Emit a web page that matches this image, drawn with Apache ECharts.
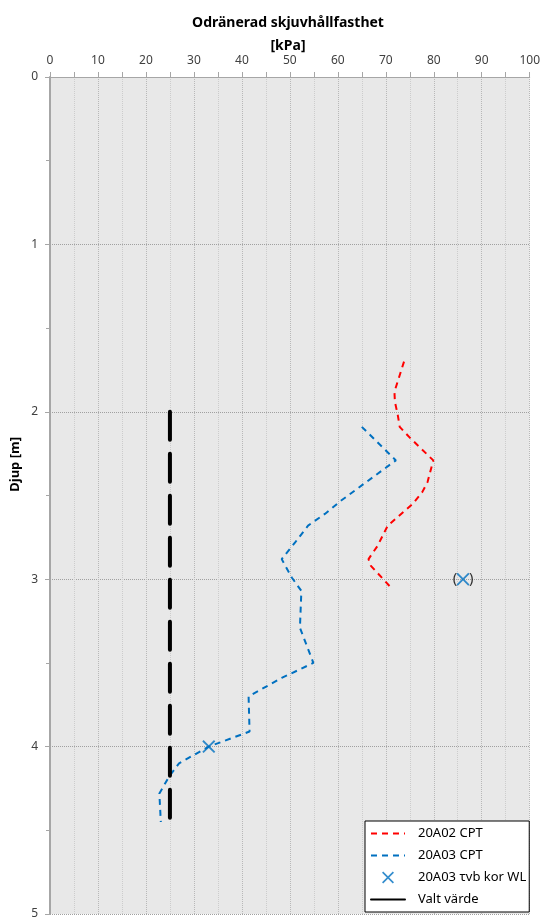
<!DOCTYPE html>
<html>
<head>
<meta charset="utf-8">
<script src="https://cdn.jsdelivr.net/npm/echarts@6/dist/echarts.min.js"></script>
<style>
  html, body { margin: 0; padding: 0; background: #fff; }
  #chart { width: 543px; height: 920px; }
</style>
</head>
<body>
<div id="chart"></div>
<script>
// 20A02 CPT
var cpt02Djup = [1.70, 1.80, 1.88, 1.94, 2.02, 2.09, 2.16, 2.29, 2.42, 2.48, 2.55, 2.68, 2.80, 2.88, 2.92, 3.06];
var cpt02Cu   = [73.8, 72.7, 71.8, 71.9, 72.5, 72.9, 75.2, 79.9, 78.7, 77.6, 75.6, 70.4, 68.3, 66.4, 66.9, 71.4];
// 20A03 CPT
var cpt03Djup = [2.09, 2.29, 2.53, 2.61, 2.68, 2.78, 2.88, 2.99, 3.07, 3.29, 3.50, 3.59, 3.70, 3.91, 4.00, 4.10, 4.18, 4.28, 4.45];
var cpt03Cu   = [65.0, 72.1, 60.7, 57.3, 53.8, 51.1, 48.3, 50.4, 52.4, 52.1, 54.9, 48.3, 41.4, 41.6, 33.1, 26.9, 24.8, 22.8, 23.1];
// 20A03 τvb kor WL
var vbDjup = [4.00, 3.00];
var vbCu   = [33.1, 86.1];
// Valt värde
var valtDjup = [2.0, 4.47];
var valtCu   = [25, 25];

function pairs(xs, ys) {
  return xs.map(function (x, i) { return [x, ys[i]]; });
}

var fontFam = '"Noto Sans", "Liberation Sans", sans-serif';
var crossPath = 'path://M0,1L1,0L5,4L9,0L10,1L6,5L10,9L9,10L5,6L1,10L0,9L4,5Z';
var noSymbol = { opacity: 0 };

var chart = echarts.init(document.getElementById('chart'));
chart.setOption({
  animation: false,
  textStyle: { fontFamily: fontFam },
  title: {
    text: 'Odränerad skjuvhållfasthet\n[kPa]',
    left: 283,
    top: 7,
    textAlign: 'center',
    textStyle: { fontSize: 14, fontWeight: 'bold', color: '#000', lineHeight: 23, fontFamily: fontFam }
  },
  graphic: [{
    type: 'text',
    left: 9,
    top: 437,
    rotation: Math.PI / 2,
    style: { text: 'Djup [m]', font: 'bold 13px ' + fontFam, fill: '#000' }
  }],
  grid: {
    left: 50, right: 10, top: 77, bottom: 4,
    show: true, backgroundColor: '#e8e8e8', borderWidth: 0
  },
  legend: {
    orient: 'vertical',
    left: 365, top: 821,
    padding: [6, 3, 6, 5],
    backgroundColor: '#fff',
    borderColor: '#000',
    borderWidth: 1,
    borderRadius: 0,
    itemWidth: 34,
    itemHeight: 12,
    itemGap: 9,
    textStyle: { fontSize: 13, color: '#000', fontFamily: fontFam, padding: [0, 0, 0, 8] },
    data: [
      { name: '20A02 CPT', itemStyle: noSymbol },
      { name: '20A03 CPT', itemStyle: noSymbol },
      { name: '20A03 τvb kor WL' },
      { name: 'Valt värde', itemStyle: noSymbol, lineStyle: { type: 'solid' } }
    ]
  },
  xAxis: {
    type: 'value',
    position: 'top',
    min: 0, max: 100, interval: 10,
    axisLine: { show: true, lineStyle: { color: '#a6a6a6', width: 1 } },
    axisTick: { show: true, length: 5, lineStyle: { color: '#a6a6a6' } },
    minorTick: { show: true, splitNumber: 2, length: 5, lineStyle: { color: '#a6a6a6' } },
    axisLabel: { margin: 10, fontSize: 12, color: '#404040' },
    splitLine: { show: true, lineStyle: { color: '#b8b8b8', type: 'dotted', width: 1 } },
    minorSplitLine: { show: true, lineStyle: { color: '#cccccc', type: 'dotted', width: 1 } }
  },
  yAxis: {
    type: 'value',
    inverse: true,
    min: 0, max: 5, interval: 1,
    axisLine: { show: true, onZero: false, lineStyle: { color: '#a6a6a6', width: 2 } },
    axisTick: { show: true, length: 5, lineStyle: { color: '#a6a6a6' } },
    minorTick: { show: true, splitNumber: 2, length: 4, lineStyle: { color: '#a6a6a6' } },
    axisLabel: { margin: 12, fontSize: 12, color: '#404040' },
    splitLine: { show: true, lineStyle: { color: '#a0a0a0', type: 'dotted', width: 1 } }
  },
  series: [
    {
      name: '20A02 CPT',
      type: 'line',
      data: pairs(cpt02Cu, cpt02Djup),
      showSymbol: false,
      symbol: 'none',
      color: '#ff0000',
      lineStyle: { color: '#ff0000', width: 2, type: [6, 5] }
    },
    {
      name: '20A03 CPT',
      type: 'line',
      data: pairs(cpt03Cu, cpt03Djup),
      showSymbol: false,
      symbol: 'none',
      color: '#0070c0',
      lineStyle: { color: '#0070c0', width: 2, type: [6, 5] }
    },
    {
      name: '20A03 τvb kor WL',
      type: 'scatter',
      data: [
        { value: [vbCu[0], vbDjup[0]] },
        {
          value: [vbCu[1], vbDjup[1]],
          label: {
            show: true, position: 'inside', formatter: '(   )',
            color: '#000', fontSize: 15
          }
        }
      ],
      symbol: crossPath,
      symbolSize: 13,
      color: '#0070c0',
      itemStyle: { color: '#0070c0' },
      z: 5
    },
    {
      name: 'Valt värde',
      type: 'line',
      data: pairs(valtCu, valtDjup),
      showSymbol: false,
      symbol: 'none',
      color: '#000',
      lineStyle: { color: '#000', width: 4, type: [28, 14], cap: 'round' },
      z: 3
    }
  ]
});
</script>
</body>
</html>
